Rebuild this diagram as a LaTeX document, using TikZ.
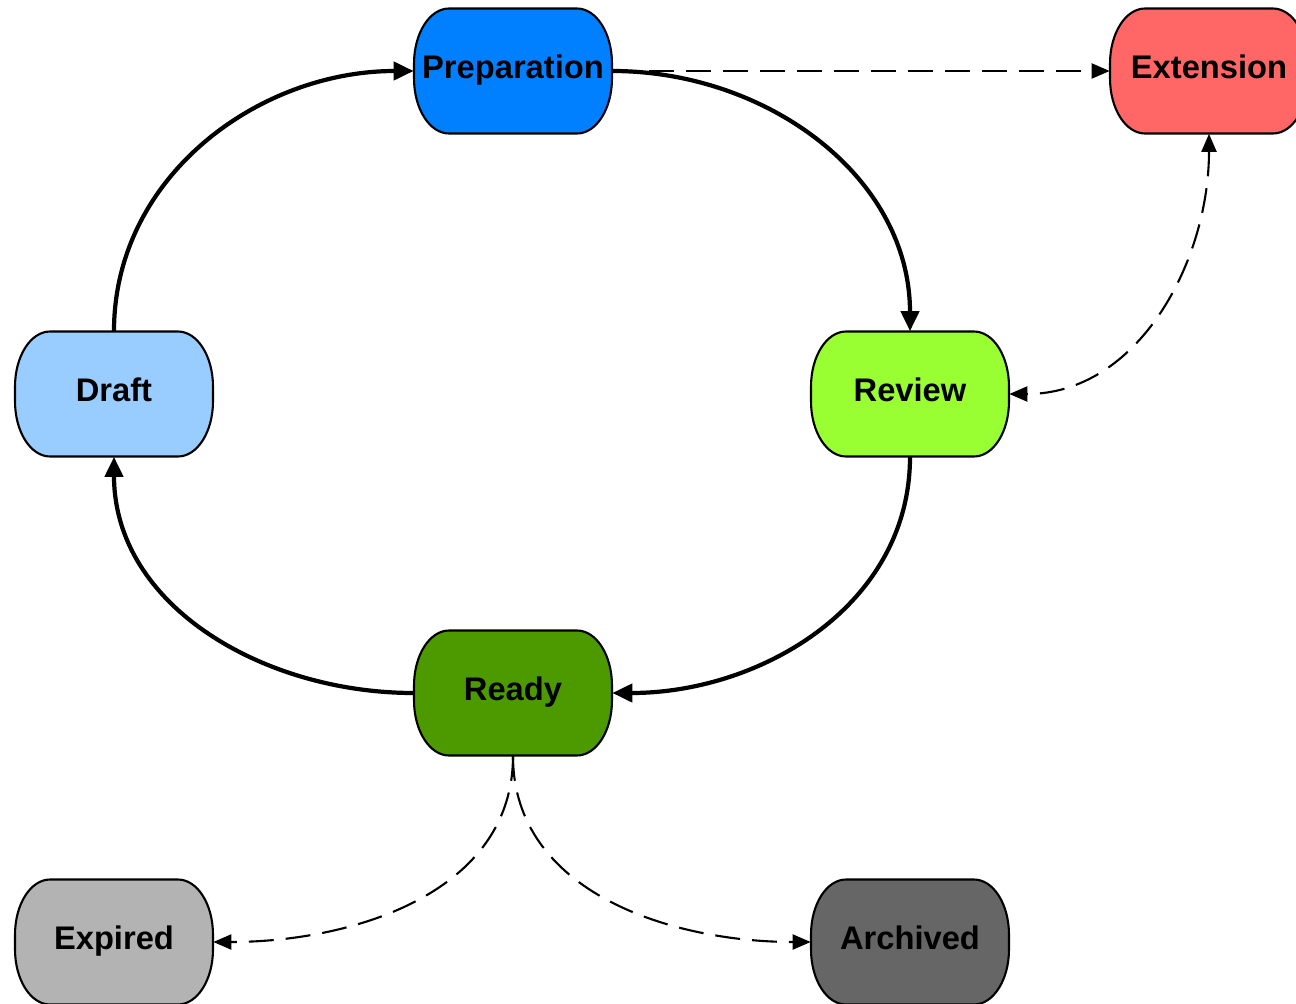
\documentclass[tikz,border=0pt]{standalone}
\usepackage{fontspec}
\setmainfont{Liberation Sans}
\usepackage{tikz}
\usetikzlibrary{arrows.meta}
\definecolor{prepblue}{RGB}{0,128,255}
\definecolor{extred}{RGB}{255,102,102}
\definecolor{draftblue}{RGB}{153,204,255}
\definecolor{revgreen}{RGB}{153,255,51}
\definecolor{readygreen}{RGB}{76,153,0}
\definecolor{expgray}{RGB}{179,179,179}
\definecolor{arcgray}{RGB}{102,102,102}
% name, position, colour, text
\newcommand\statenode[4]{%
\filldraw[fill=#3,line width=1.2pt] (#2) ++(-1.28cm,1.25cm) -- ++(2.56cm,0)
  arc[start angle=90,end angle=0,x radius=0.7cm,y radius=1.1cm] -- ++(0,-0.3cm)
  arc[start angle=0,end angle=-90,x radius=0.7cm,y radius=1.1cm] -- ++(-2.56cm,0)
  arc[start angle=-90,end angle=-180,x radius=0.7cm,y radius=1.1cm] -- ++(0,0.3cm)
  arc[start angle=180,end angle=90,x radius=0.7cm,y radius=1.1cm] -- cycle;
\node[statetext] (#1) at (#2) {#4};}

\begin{document}
\begin{tikzpicture}[x=0.02cm,y=-0.02cm,>={Triangle[length=0.4cm,width=0.36cm]}]
\tikzset{statetext/.style={rectangle,minimum width=3.96cm,minimum height=2.5cm,inner sep=0pt,
  text height=13pt,text depth=5pt,font=\bfseries\fontsize{18.6}{22}\selectfont}}
\tikzset{flow/.style={->,line width=2.4pt}}
\tikzset{option/.style={line width=1.2pt,dash pattern=on 0.5cm off 0.24cm,
  >={Triangle[length=0.36cm,width=0.3cm]}}}
\useasboundingbox (0,0) rectangle (1296,1004);
\clip (0,0) rectangle (1296,1004);

\statenode{prep}{513,71}{prepblue}{Preparation}
\statenode{ext}{1209,71}{extred}{Extension}
\statenode{draft}{114,394}{draftblue}{Draft}
\statenode{review}{910,394}{revgreen}{Review}
\statenode{ready}{513,693}{readygreen}{Ready}
\statenode{expired}{114,942}{expgray}{Expired}
\statenode{archived}{910,942}{arcgray}{Archived}

\draw[option,->] (prep.east) -- (ext.west);
\draw[flow] (prep.east) to[out=0,in=90] (review.north);
\draw[flow] (review.south) to[out=-90,in=0] (ready.east);
\draw[flow] (ready.west) to[out=180,in=-90] (draft.south);
\draw[flow] (draft.north) to[out=90,in=180] (prep.west);
\draw[option,<->] (ext.south) to[out=-90,in=0] (review.east);
\draw[option,->] (ready.south) to[out=-90,in=0] (expired.east);
\draw[option,->] (ready.south) to[out=-90,in=180] (archived.west);

\end{tikzpicture}
\end{document}
